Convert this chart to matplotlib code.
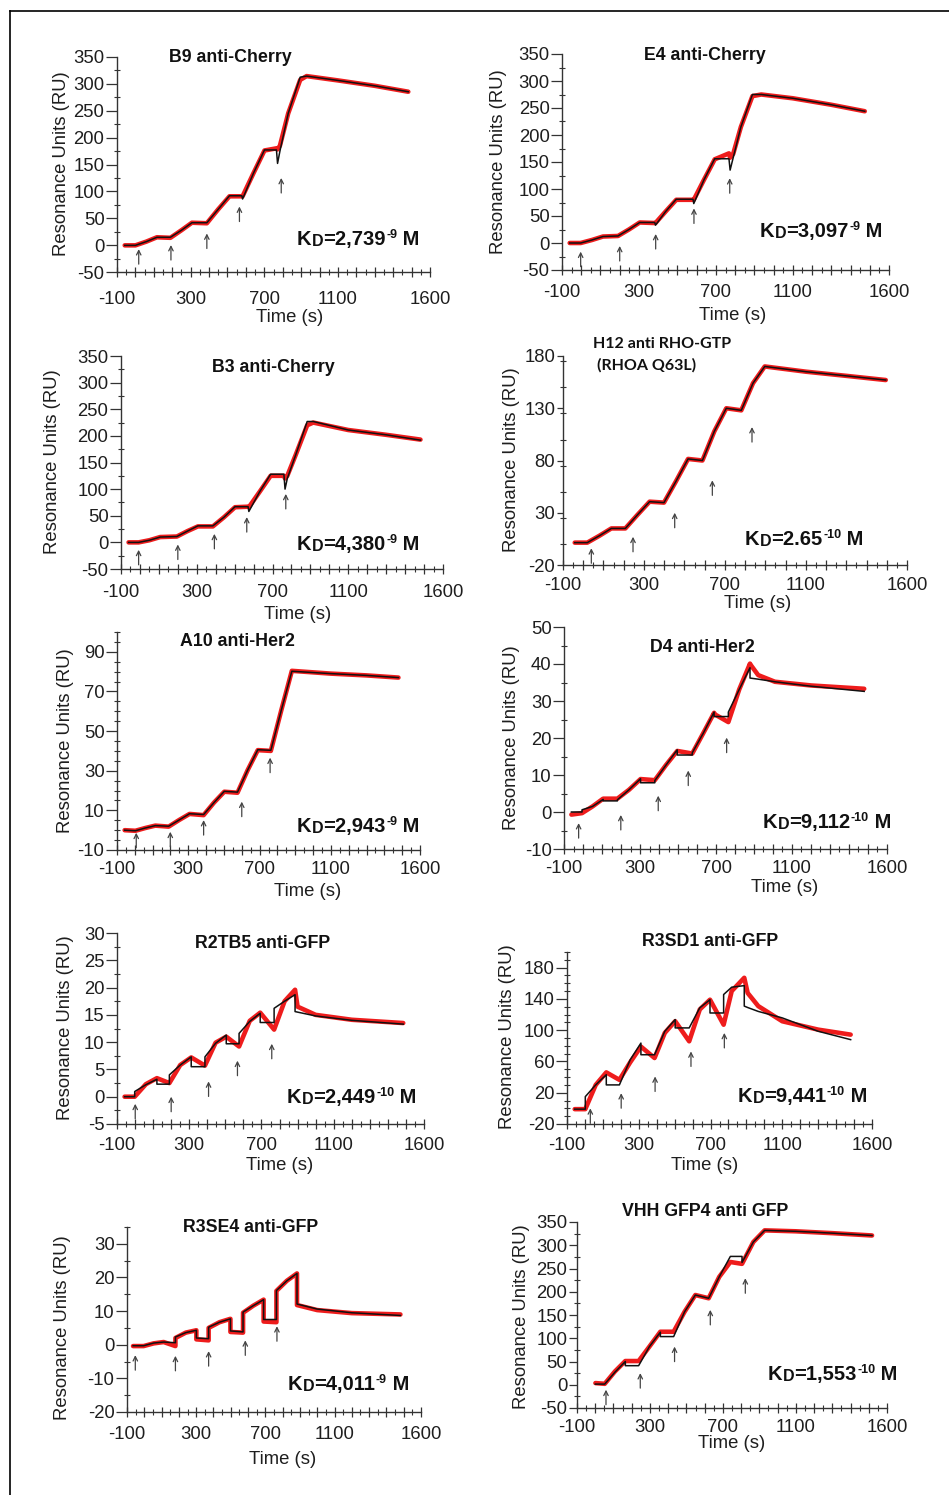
import matplotlib
matplotlib.use('Agg')
import matplotlib.pyplot as plt
from matplotlib.lines import Line2D
from matplotlib.ticker import FixedLocator, MultipleLocator, FuncFormatter
import numpy as np

W, H = 949, 1495
plt.rcParams['font.family'] = ['Liberation Sans', 'DejaVu Sans']
plt.rcParams['axes.unicode_minus'] = False

# ---------------- data (time s, response RU) ----------------
B9_T   = [-58, 0, 60, 117, 190, 250, 307, 388, 450, 511, 578, 582, 640, 701, 766, 772, 785, 830, 895, 930, 1100, 1300, 1482]
B9_RED = [0, 0, 7, 15, 14, 28, 42, 41, 67, 91, 91, 91, 133, 176, 180, 178, 185, 245, 307, 314, 306, 296, 285]
B9_FIT = [0, 0, 7, 15, 15, 28, 42, 42, 67, 92, 92, 86, 133, 177, 177, 152, 175, 245, 312, 314, 306, 296, 285]
B9_ARR_T = [18, 193, 388, 565, 792]
B9_ARR_V = [-7, 0.6, 22, 72, 125]

E4_T   = [-60, -3, 55, 113, 191, 248, 304, 382, 386, 438, 494, 581, 585, 638, 694, 768, 774, 790, 830, 890, 936, 1100, 1300, 1474]
E4_RED = [0, 0, 5.5, 12, 13, 25, 38, 37, 37, 58, 80, 80, 80, 117, 155, 166, 158, 165, 215, 272, 275, 268, 256, 244]
E4_FIT = [0, 0, 5.5, 12, 13, 25, 38, 38, 33, 58, 81, 81, 73, 117, 156, 156, 135, 158, 215, 275, 275, 268, 256, 244]
E4_ARR_T = [-3, 200, 387, 586, 772]
E4_ARR_V = [-16, -5.5, 16.7, 64, 120]

B3_T   = [-60, -7, 50, 107, 195, 250, 306, 385, 443, 502, 571, 575, 632, 690, 760, 766, 778, 822, 883, 915, 1100, 1300, 1481]
B3_RED = [0, 0, 4, 10, 11, 21, 30, 30, 47, 66, 67, 66, 95, 125, 125, 120, 125, 164, 220, 225, 211, 202, 193]
B3_FIT = [0, 0, 4, 10, 11, 21, 31, 31, 47, 67, 67, 58, 95, 128, 128, 100, 120, 164, 227, 227, 211, 202, 192]
B3_ARR_T = [-7, 200, 393, 564, 770]
B3_ARR_V = [-14, -4, 16, 47.5, 91]

H12_T   = [-42, 20, 80, 139, 208, 268, 328, 399, 458, 518, 589, 648, 707, 781, 839, 897, 1100, 1300, 1495]
H12_RED = [1.4, 1.4, 8, 15, 15, 28, 40.6, 39.7, 60, 81.5, 80, 108, 130, 128, 154, 170, 165, 161, 157]
H12_FIT = [1.4, 1.4, 8, 15, 15, 28, 40.6, 39.7, 60, 81.5, 80, 108, 130, 128, 154, 170, 165, 161, 157]
H12_ARR_T = [40, 246, 452, 638, 834]
H12_ARR_V = [-4, 7, 30, 61, 112]

A10_T   = [-57, 3, 59, 115, 190, 248, 307, 386, 444, 502, 576, 633, 690, 763, 822, 881, 1100, 1300, 1479]
A10_RED = [0, -0.3, 1.1, 2.3, 1.8, 5.1, 8.2, 7.6, 13.9, 19.4, 18.9, 30.3, 40.4, 40, 60.6, 80.4, 79, 78.1, 77]
A10_FIT = [0, -0.3, 1.1, 2.3, 2.0, 5.1, 8.3, 7.9, 13.9, 19.6, 19.2, 30.3, 40.6, 40.3, 60.6, 80.2, 79, 78.1, 77]
A10_ARR_T = [8, 199, 386, 600, 759]
A10_ARR_V = [-1.3, -0.8, 5.1, 14.4, 36.6]

D4_T   = [-61, -5, -5, 50, 106, 106, 181, 181, 242, 303, 303, 378, 378, 437, 496, 496, 575, 575, 633, 690, 690, 765, 765, 822, 879, 879, 922, 1010, 1200, 1480]
D4_RED = [-0.7, -0.3, -0.3, 1.5, 3.6, 3.6, 3.6, 3.6, 6, 8.9, 8.9, 8.6, 8.6, 12.7, 16.5, 16.5, 15.8, 15.8, 21.3, 26.8, 26.5, 24.3, 24.3, 33.1, 40.1, 40, 37, 35.2, 34.2, 33.3]
D4_FIT = [0, 0, 0.6, 1.5, 3.4, 3.0, 3.0, 3.3, 6, 9.0, 7.9, 7.9, 8.5, 12.7, 16.8, 15.4, 15.4, 16, 21.3, 27, 25.8, 25.8, 27, 33.1, 39, 36.2, 35.9, 35.2, 34, 32.6]
D4_ARR_T = [-23, 199, 396, 554, 756]
D4_ARR_V = [-3, -0.8, 4.4, 11.2, 20.1]

R2TB5_T   = [-58, -2, -2, 60, 121, 121, 190, 190, 250, 311, 311, 387, 387, 446, 505, 505, 576, 576, 635, 693, 693, 770, 770, 828, 886, 886, 900, 1000, 1200, 1485]
R2TB5_RED = [0, 0, 0, 2.3, 3.4, 3.4, 2.5, 2.5, 5.8, 7.2, 7.2, 5.7, 5.7, 9.9, 11.0, 11.0, 9.2, 9.2, 13.9, 15.4, 15.4, 12.3, 12.3, 17.5, 19.6, 19.6, 16.5, 15.0, 14.1, 13.5]
R2TB5_FIT = [0, 0, 0.95, 2.2, 3.2, 2.3, 2.3, 4.0, 5.8, 7.3, 5.5, 5.5, 7.3, 9.8, 11.3, 9.7, 9.7, 11.6, 13.8, 15.3, 13.6, 13.6, 16.2, 17.5, 18.7, 15.6, 15.5, 14.8, 14.0, 13.3]
R2TB5_ARR_T = [1, 200, 407, 567, 757]
R2TB5_ARR_V = [-1.3, 0, 2.8, 6.6, 9.7]

R3SD1_T   = [-57, 2, 2, 60, 119, 119, 192, 192, 252, 312, 312, 388, 388, 445, 503, 503, 581, 581, 640, 697, 697, 773, 773, 818, 888, 888, 907, 966, 1100, 1300, 1481]
R3SD1_RED = [-1, -1, -1, 30, 46, 46, 36.5, 36.5, 58.8, 79, 79, 64.4, 64.4, 96.5, 111.5, 111.5, 85.8, 85.8, 126.5, 139, 139, 107, 107, 150, 167, 167, 147.6, 130.8, 111.4, 100.7, 94.3]
R3SD1_FIT = [-1, -1, 15, 30, 43, 30, 30, 30, 62, 83.5, 68.6, 68.6, 68.6, 98.6, 113.6, 102.9, 102.9, 102.9, 128.6, 139, 122, 122, 145.6, 155, 157, 130.8, 129, 124, 115.7, 98.6, 87.9]
R3SD1_ARR_T = [30, 202, 391, 591, 777]
R3SD1_ARR_V = [0, 19.4, 40.8, 72.8, 96.5]

R3SE4_T   = [-65, -4, 54, 112, 180, 180, 240, 301, 301, 372, 372, 435, 498, 498, 571, 571, 630, 690, 690, 764, 764, 824, 883, 883, 1000, 1200, 1481]
R3SE4_RED = [-0.4, -0.4, 0.4, 0.8, -0.4, 2.0, 3.6, 4.3, 1.6, 1.3, 5.0, 6.7, 7.7, 3.8, 3.6, 9.5, 11.6, 13.4, 6.9, 6.7, 16.0, 19, 21.2, 11.8, 10.3, 9.4, 9.0]
R3SE4_FIT = [-0.3, -0.3, 0.5, 0.8, 0.6, 2.3, 3.6, 4.3, 2.0, 1.8, 5.2, 6.7, 7.7, 4.1, 3.8, 9.7, 11.6, 13.4, 7.5, 7.5, 16.1, 19, 21.2, 12.1, 10.6, 9.5, 8.7]
R3SE4_ARR_T = [-52, 180, 372, 584, 767]
R3SE4_ARR_V = [-3.1, -3.3, -1.9, 1.3, 5.5]

VHH_T   = [1, 52, 108, 165, 165, 238, 297, 357, 357, 430, 490, 549, 622, 680, 741, 805, 805, 867, 929, 1100, 1300, 1518]
VHH_RED = [3.6, 2, 28.6, 51, 51, 51, 82, 114, 114, 114, 157, 193, 186, 232, 264, 260, 260, 307, 332, 330, 326, 321]
VHH_FIT = [1.4, 1.4, 27, 50, 41, 41, 82, 113, 103.6, 103.6, 157, 193, 186, 232, 276, 276, 263, 307, 332, 330, 326, 321]
VHH_ARR_T = [59, 247, 435, 631, 823]
VHH_ARR_V = [-10.7, 25, 82, 161, 229]

X_LABELS = [-100, 300, 700, 1100, 1600]

# ---------------- layout (pixels) ----------------
panels = [
    dict(T=B9_T, R=B9_RED, F=B9_FIT, AT=B9_ARR_T, AV=B9_ARR_V,
         x0=117, x1=430, yt=56.7, yb=272.3, ylim=(-50, 350), yt_major=list(range(-50, 351, 50)), yminor=25,
         title="B9 anti-Cherry", tpos=(230, 57), kd=("2,739", "-9"), kpos=(297, 245),
         ylab=(62, 164), tlab=(290, 317), xoff=25, ylen=8),
    dict(T=E4_T, R=E4_RED, F=E4_FIT, AT=E4_ARR_T, AV=E4_ARR_V,
         x0=562, x1=889, yt=54, yb=270, ylim=(-50, 350), yt_major=list(range(-50, 351, 50)), yminor=25,
         title="E4 anti-Cherry", tpos=(705, 55), kd=("3,097", "-9"), kpos=(760, 237),
         ylab=(498, 162), tlab=(733, 315), xoff=20, ylen=8),
    dict(T=B3_T, R=B3_RED, F=B3_FIT, AT=B3_ARR_T, AV=B3_ARR_V,
         x0=121, x1=443, yt=356, yb=569, ylim=(-50, 350), yt_major=list(range(-50, 351, 50)), yminor=25,
         title="B3 anti-Cherry", tpos=(273, 367), kd=("4,380", "-9"), kpos=(297, 550),
         ylab=(53, 462), tlab=(298, 615), xoff=21, ylen=8),
    dict(T=H12_T, R=H12_RED, F=H12_FIT, AT=H12_ARR_T, AV=H12_ARR_V,
         x0=563, x1=907, yt=356, yb=565, ylim=(-20, 180), yt_major=[-20, 30, 80, 130, 180], yminor=25,
         title=None, tpos=None, kd=("2.65", "-10"), kpos=(745, 545),
         ylab=(512, 460), tlab=(758, 603), xoff=18, ylen=4.5),
    dict(T=A10_T, R=A10_RED, F=A10_FIT, AT=A10_ARR_T, AV=A10_ARR_V,
         x0=117, x1=420, yt=632, yb=850, ylim=(-10, 100), yt_major=[-10, 10, 30, 50, 70, 90], yminor=5,
         title="A10 anti-Her2", tpos=(237, 642), kd=("2,943", "-9"), kpos=(297, 832),
         ylab=(65, 741), tlab=(308, 892), xoff=17, ylen=8),
    dict(T=D4_T, R=D4_RED, F=D4_FIT, AT=D4_ARR_T, AV=D4_ARR_V,
         x0=564, x1=887, yt=627, yb=849, ylim=(-10, 50), yt_major=list(range(-10, 51, 10)), yminor=5,
         title="D4 anti-Her2", tpos=(702, 647), kd=("9,112", "-10"), kpos=(763, 828),
         ylab=(512, 738), tlab=(785, 887), xoff=17, ylen=8),
    dict(T=R2TB5_T, R=R2TB5_RED, F=R2TB5_FIT, AT=R2TB5_ARR_T, AV=R2TB5_ARR_V,
         x0=117, x1=424, yt=933, yb=1124, ylim=(-5, 30), yt_major=list(range(-5, 31, 5)), yminor=2.5,
         title="R2TB5 anti-GFP", tpos=(263, 943), kd=("2,449", "-10"), kpos=(287, 1103),
         ylab=(65, 1028), tlab=(280, 1165), xoff=19, ylen=8),
    dict(T=R3SD1_T, R=R3SD1_RED, F=R3SD1_FIT, AT=R3SD1_ARR_T, AV=R3SD1_ARR_V,
         x0=567, x1=872, yt=952, yb=1124, ylim=(-20, 200), yt_major=[-20, 20, 60, 100, 140, 180], yminor=10,
         title="R3SD1 anti-GFP", tpos=(710, 942), kd=("9,441", "-10"), kpos=(738, 1102),
         ylab=(508, 1037), tlab=(705, 1165), xoff=19, ylen=8),
    dict(T=R3SE4_T, R=R3SE4_RED, F=R3SE4_FIT, AT=R3SE4_ARR_T, AV=R3SE4_ARR_V,
         x0=127, x1=421, yt=1227, yb=1412, ylim=(-20, 35), yt_major=list(range(-20, 31, 10)), yminor=5,
         title="R3SE4 anti-GFP", tpos=(251, 1227), kd=("4,011", "-9"), kpos=(288, 1390),
         ylab=(63, 1328), tlab=(283, 1460), xoff=20, ylen=8),
    dict(T=VHH_T, R=VHH_RED, F=VHH_FIT, AT=VHH_ARR_T, AV=VHH_ARR_V,
         x0=577, x1=887, yt=1222, yb=1408, ylim=(-50, 350), yt_major=list(range(-50, 351, 50)), yminor=25,
         title="VHH GFP4 anti GFP", tpos=(705, 1212), kd=("1,553", "-10"), kpos=(768, 1380),
         ylab=(522, 1317), tlab=(732, 1443), xoff=17, ylen=6),
]

fig = plt.figure(figsize=(W / 100, H / 100), dpi=100)
fig.patch.set_facecolor('white')

def fx(px):
    return px / W

def fy(py):
    return 1 - py / H

TXT = '#1e1e1e'
FS = 13.3

def xfmt(v, pos):
    return f"{int(round(v))}" if int(round(v)) in X_LABELS else ""

for p in panels:
    ax = fig.add_axes([fx(p['x0']), fy(p['yb']), (p['x1'] - p['x0']) / W, (p['yb'] - p['yt']) / H])
    ax.patch.set_alpha(0)
    ax.set_xlim(-100, 1600)
    ax.set_ylim(*p['ylim'])
    for s in ('top', 'right'):
        ax.spines[s].set_visible(False)
    for s in ('left', 'bottom'):
        ax.spines[s].set_linewidth(1.0)
        ax.spines[s].set_color('#333333')
    ax.xaxis.set_major_locator(FixedLocator(np.arange(-100, 1601, 100)))
    ax.xaxis.set_minor_locator(MultipleLocator(50))
    ax.xaxis.set_major_formatter(FuncFormatter(xfmt))
    ax.yaxis.set_major_locator(FixedLocator(p['yt_major']))
    ax.yaxis.set_minor_locator(MultipleLocator(p['yminor']))
    xpad = max((p['xoff'] - 11.0) / 1.389, 0.5)
    ax.tick_params(axis='x', which='major', direction='inout', length=7, width=0.9,
                   color='#333333', labelsize=FS, labelcolor=TXT, pad=xpad)
    ax.tick_params(axis='x', which='minor', direction='inout', length=4, width=0.8, color='#333333')
    ax.tick_params(axis='y', which='major', direction='out', length=p['ylen'], width=0.9,
                   color='#333333', labelsize=FS, labelcolor=TXT, pad=1)
    ax.tick_params(axis='y', which='minor', direction='inout', length=5, width=0.8, color='#333333')

    ax.plot(p['T'], p['R'], color='#ee1c1c', lw=3.3, solid_joinstyle='round', solid_capstyle='round', zorder=3)
    ax.plot(p['T'], p['F'], color='#111111', lw=1.1, zorder=4)

    for t, v in zip(p['AT'], p['AV']):
        ax.annotate('', xy=(t, v), xytext=(0, -15), textcoords='offset pixels',
                    arrowprops=dict(arrowstyle='->', color='#444444', lw=0.9,
                                    shrinkA=0, shrinkB=0, mutation_scale=8),
                    annotation_clip=False)

    # axis labels
    fig.text(fx(p['ylab'][0]), fy(p['ylab'][1]), "Resonance Units (RU)", rotation=90,
             ha='center', va='center', fontsize=FS, color=TXT)
    fig.text(fx(p['tlab'][0]), fy(p['tlab'][1]), "Time (s)", ha='center', va='center',
             fontsize=FS, color=TXT)

    # title
    if p['title']:
        fig.text(fx(p['tpos'][0]), fy(p['tpos'][1]), p['title'], ha='center', va='center',
                 fontsize=12.8, fontweight='bold', color='#111111')

    # KD annotation
    mant, ex = p['kd']
    t1 = fig.text(fx(p['kpos'][0]), fy(p['kpos'][1]), "K", fontsize=14.5, fontweight='bold',
                  color='#111111', va='baseline', ha='left')
    t2 = ax.annotate("D", xy=(1, 0), xycoords=t1, va='bottom', ha='left', fontsize=11.5,
                     fontweight='bold', color='#111111', annotation_clip=False)
    t3 = ax.annotate("=" + mant, xy=(1, 0), xycoords=t2, va='bottom', ha='left', fontsize=14.5,
                     fontweight='bold', color='#111111', annotation_clip=False)
    t4 = ax.annotate(ex, xy=(1, 1), xycoords=t3, xytext=(0.5, 1.0), textcoords='offset points',
                     va='top', ha='left', fontsize=9, fontweight='bold', color='#111111',
                     annotation_clip=False)
    ax.annotate(" M", xy=(1, 0), xycoords=(t4, t3), va='bottom', ha='left', fontsize=14.5,
                fontweight='bold', color='#111111', annotation_clip=False)

# H12 two-line title
fig.text(fx(593), fy(344), "H12 anti RHO-GTP", ha='left', va='center', fontsize=11.5,
         fontweight='bold', color='#111111', family=['Lato', 'DejaVu Sans'])
fig.text(fx(597), fy(365), "(RHOA Q63L)", ha='left', va='center', fontsize=11.5,
         fontweight='bold', color='#111111', family=['Lato', 'DejaVu Sans'])

# outer frame (left and top edges)
fig.add_artist(Line2D([fx(10), fx(10)], [0, fy(11)], transform=fig.transFigure, color='black', lw=1.2))
fig.add_artist(Line2D([fx(10), 1], [fy(11), fy(11)], transform=fig.transFigure, color='black', lw=1.2))

fig.savefig('out.png', dpi=100, facecolor='white')
